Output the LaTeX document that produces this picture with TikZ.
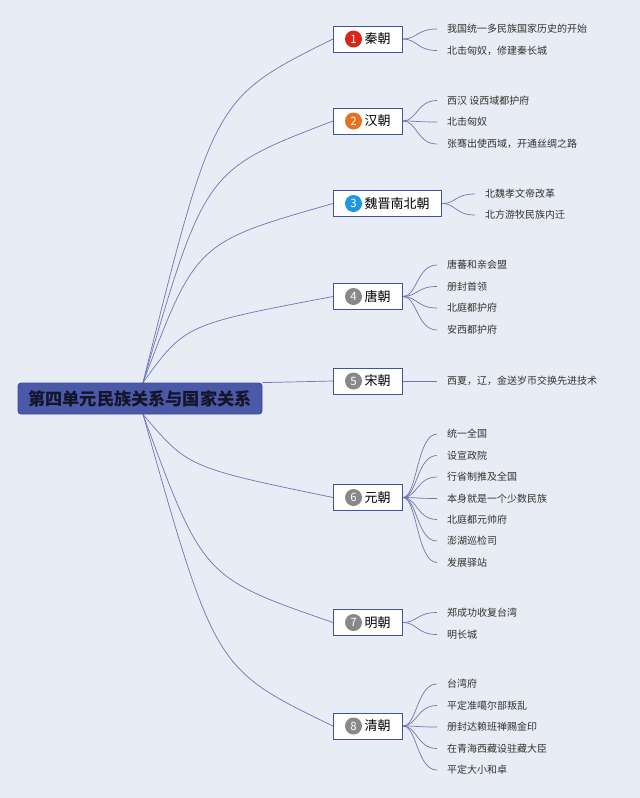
\documentclass[tikz,border=0pt]{standalone}
\usepackage{fontspec}
\setmainfont{Noto Sans CJK SC}
\usetikzlibrary{calc}
\pgfdeclarelayer{bg}
\pgfdeclarelayer{lines}
\pgfsetlayers{bg,lines,main}
\definecolor{bgc}{HTML}{E8ECF4}
\definecolor{boxc}{HTML}{4353A3}
\definecolor{rootc}{HTML}{4A5AA8}
\definecolor{rootb}{HTML}{3E4D98}
\definecolor{roottext}{HTML}{14142A}
\definecolor{linec}{HTML}{6D76B8}
\definecolor{leafc}{HTML}{333333}
\definecolor{cred}{HTML}{D8261B}
\definecolor{corange}{HTML}{E5701E}
\definecolor{cblue}{HTML}{1D97E2}
\definecolor{cgray}{HTML}{888888}
\tikzset{
  branch/.style={draw=boxc, line width=1pt, fill=white, minimum height=26pt,
    inner xsep=12pt, inner ysep=0pt, anchor=west, text=black,
    font=\fontsize{13}{13}\selectfont},
  num/.style={circle, fill=#1, text=white, minimum size=17pt, inner sep=0pt,
    font=\fontsize{11.5}{11.5}\selectfont},
  leaf/.style={anchor=west, inner xsep=10pt, inner ysep=0pt, text=leafc,
    font=\fontsize{10}{10}\selectfont},
  mainline/.style={draw=linec, line width=0.7pt},
  subline/.style={draw=linec!85!gray, line width=0.7pt},
}
\newcommand{\sub}[2]{\draw[subline] (#1.east) .. controls +(14,0) and +(-20,0) .. (#2.west);}
% #1 start coordinate, #2 branch node, #3 control x offset, #4 control y offset from end
\newcommand{\mainc}[4]{\draw[mainline] (#1) .. controls ($(#1 |- #2.west)+(#3,#4)$) .. (#2.west);}
\begin{document}
\begin{tikzpicture}[x=1pt,y=-1pt]
\begin{pgfonlayer}{bg}
\fill[bgc] (0,0) rectangle (640,798);
\end{pgfonlayer}
\useasboundingbox (0,0) rectangle (640,798);

\node[draw=rootb, line width=0.8pt, fill=rootc, rounded corners=3pt, minimum width=244pt,
  minimum height=31pt, inner sep=0pt, text=roottext,
  font=\fontsize{17.2}{17.2}\selectfont\bfseries] (root) at (140,398.5) {第四单元民族关系与国家关系};
\coordinate (rt) at ([xshift=3pt]root.north);
\coordinate (rb) at ([xshift=3pt]root.south);

% branches
\node[branch] (b1) at (333,39) {\hspace{19pt}秦朝};
\node[num=cred] (n1) at ([xshift=20.5pt]b1.west) {1};
\node[branch] (b2) at (333,121) {\hspace{19pt}汉朝};
\node[num=corange] (n2) at ([xshift=20.5pt]b2.west) {2};
\node[branch] (b3) at (333,203.5) {\hspace{19pt}魏晋南北朝};
\node[num=cblue] (n3) at ([xshift=20.5pt]b3.west) {3};
\node[branch] (b4) at (333,296.5) {\hspace{19pt}唐朝};
\node[num=cgray] (n4) at ([xshift=20.5pt]b4.west) {4};
\node[branch] (b5) at (333,381) {\hspace{19pt}宋朝};
\node[num=cgray] (n5) at ([xshift=20.5pt]b5.west) {5};
\node[branch] (b6) at (333,497.5) {\hspace{19pt}元朝};
\node[num=cgray] (n6) at ([xshift=20.5pt]b6.west) {6};
\node[branch] (b7) at (333,622.5) {\hspace{19pt}明朝};
\node[num=cgray] (n7) at ([xshift=20.5pt]b7.west) {7};
\node[branch] (b8) at (333,726) {\hspace{19pt}清朝};
\node[num=cgray] (n8) at ([xshift=20.5pt]b8.west) {8};

% leaves
\node[leaf] (l11) at (437,29) {我国统一多民族国家历史的开始};
\node[leaf] (l12) at (437,50.5) {北击匈奴，修建秦长城};
\node[leaf] (l21) at (437,100.5) {西汉 设西域都护府};
\node[leaf] (l22) at (437,122) {北击匈奴};
\node[leaf] (l23) at (437,144) {张骞出使西域，开通丝绸之路};
\node[leaf] (l31) at (475,194) {北魏孝文帝改革};
\node[leaf] (l32) at (475,215) {北方游牧民族内迁};
\node[leaf] (l41) at (437,265) {唐蕃和亲会盟};
\node[leaf] (l42) at (437,286.5) {册封首领};
\node[leaf] (l43) at (437,308) {北庭都护府};
\node[leaf] (l44) at (437,330) {安西都护府};
\node[leaf] (l51) at (437,381) {西夏，辽，金送岁币交换先进技术};
\node[leaf] (l61) at (437,434) {统一全国};
\node[leaf] (l62) at (437,455.5) {设宣政院};
\node[leaf] (l63) at (437,477) {行省制推及全国};
\node[leaf] (l64) at (437,498.5) {本身就是一个少数民族};
\node[leaf] (l65) at (437,519.5) {北庭都元帅府};
\node[leaf] (l66) at (437,541) {澎湖巡检司};
\node[leaf] (l67) at (437,562.5) {发展驿站};
\node[leaf] (l71) at (437,612.5) {郑成功收复台湾};
\node[leaf] (l72) at (437,634.5) {明长城};
\node[leaf] (l81) at (437,684) {台湾府};
\node[leaf] (l82) at (437,705.5) {平定准噶尔部叛乱};
\node[leaf] (l83) at (437,727) {册封达赖班禅赐金印};
\node[leaf] (l84) at (437,748.5) {在青海西藏设驻藏大臣};
\node[leaf] (l85) at (437,770) {平定大小和卓};

\begin{pgfonlayer}{lines}
\mainc{rt}{b1}{71}{59}
\mainc{rt}{b2}{62}{49}
\mainc{rt}{b3}{53}{39}
\mainc{rt}{b4}{42}{28}
\draw[mainline] (root.north east) -- (b5.west);
\mainc{rb}{b6}{45}{-30}
\mainc{rb}{b7}{60}{-45}
\mainc{rb}{b8}{72}{-57}
\sub{b1}{l11}\sub{b1}{l12}
\sub{b2}{l21}\sub{b2}{l22}\sub{b2}{l23}
\sub{b3}{l31}\sub{b3}{l32}
\sub{b4}{l41}\sub{b4}{l42}\sub{b4}{l43}\sub{b4}{l44}
\draw[subline] (b5.east) -- (l51.west);
\sub{b6}{l61}\sub{b6}{l62}\sub{b6}{l63}\sub{b6}{l64}\sub{b6}{l65}\sub{b6}{l66}\sub{b6}{l67}
\sub{b7}{l71}\sub{b7}{l72}
\sub{b8}{l81}\sub{b8}{l82}\sub{b8}{l83}\sub{b8}{l84}\sub{b8}{l85}
\end{pgfonlayer}
\end{tikzpicture}
\end{document}
